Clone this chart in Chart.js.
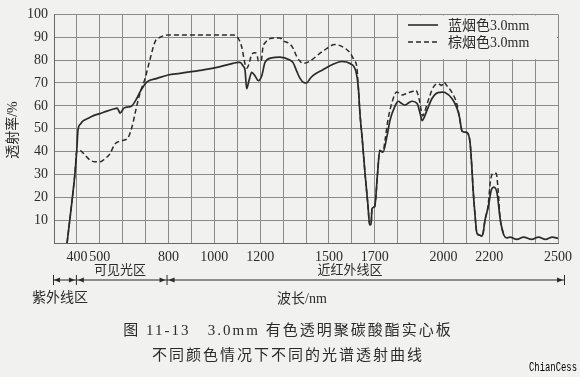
<!DOCTYPE html>
<html>
<head>
<meta charset="utf-8">
<script src="https://cdn.jsdelivr.net/npm/chart.js@4.4.1/dist/chart.umd.min.js"></script>
<style>
  html, body { margin: 0; padding: 0; background: #f1f1ef; }
  #wrap { width: 580px; height: 377px; }
</style>
</head>
<body>
<div id="wrap"><canvas id="spectrum" width="580" height="377"></canvas></div>
<script>
// wavelength (nm) / transmittance (%)
const blueWavelength = [357, 377, 392, 399, 405, 415, 427, 450, 470, 500, 531, 560, 575, 582, 588, 595, 605, 625, 640, 660, 675, 690, 706, 750, 798, 850, 937, 1000, 1081, 1103, 1112, 1125, 1134, 1141, 1151, 1163, 1177, 1192, 1207, 1221, 1250, 1286, 1330, 1343, 1359, 1374, 1390, 1403, 1417, 1430, 1474, 1518, 1556, 1592, 1618, 1628, 1636, 1645, 1658, 1670, 1678, 1684, 1688, 1700, 1712, 1722, 1730, 1736, 1754, 1767, 1788, 1802, 1818, 1832, 1850, 1863, 1885, 1898, 1907, 1916, 1928, 1950, 1976, 1995, 2007, 2037, 2059, 2070, 2081, 2092, 2103, 2116, 2124, 2129, 2138, 2146, 2159, 2167, 2173, 2181, 2195, 2210, 2220, 2234, 2247, 2254, 2264, 2277, 2290, 2320, 2350, 2385, 2415, 2445, 2475, 2500];
const blueTransmission = [0, 17, 31, 40, 49.6, 52, 53.4, 54.6, 55.6, 56.6, 57.7, 58.6, 59, 58, 56.8, 57.5, 59, 59.5, 60, 63, 66, 68.5, 70.5, 72, 73.5, 74.2, 75.5, 76.6, 78.6, 79, 79, 77.5, 75.5, 67.5, 71, 74.6, 73.2, 71, 73.2, 79, 81, 81.3, 80, 79, 75.3, 72, 70.2, 70, 71.8, 73.2, 75.8, 78.2, 79.4, 78.5, 75, 68.5, 56, 46, 30, 17, 8, 8, 15, 16, 30, 40.5, 40, 39.7, 47, 53.8, 59.8, 62, 61, 60.3, 61.5, 62, 61, 56.8, 53.5, 55, 58, 63.2, 65.8, 66, 65.8, 63.2, 59, 55, 49, 48.5, 48.3, 44, 33, 24, 12, 4.3, 3.4, 3, 4.3, 9.8, 15.5, 23.5, 24.4, 21.8, 11, 7, 3.4, 2.2, 2.6, 1.6, 2.6, 1.6, 2.6, 1.6, 2.6, 2];

const brownWavelength = [357, 377, 392, 398, 405, 413, 435, 457, 479, 501, 523, 544, 566, 595, 623, 635, 646, 654, 675, 697, 719, 741, 763, 798, 900, 1000, 1081, 1103, 1120, 1134, 1141, 1150, 1163, 1177, 1186, 1192, 1204, 1212, 1225, 1243, 1286, 1300, 1330, 1343, 1360, 1374, 1387, 1400, 1417, 1474, 1527, 1556, 1592, 1610, 1622, 1628, 1636, 1645, 1658, 1670, 1678, 1684, 1688, 1700, 1712, 1722, 1730, 1736, 1745, 1758, 1774, 1796, 1818, 1845, 1870, 1880, 1895, 1909, 1919, 1934, 1956, 1977, 1992, 2002, 2014, 2036, 2058, 2070, 2081, 2092, 2103, 2116, 2124, 2129, 2138, 2146, 2159, 2167, 2173, 2181, 2195, 2205, 2216, 2230, 2238, 2247, 2254, 2264];
const brownTransmission = [0, 17, 31, 39.5, 40.5, 40.5, 38.5, 36.3, 35.5, 35.5, 36.9, 39, 43.3, 44.7, 46, 49, 53, 56.8, 65.4, 71.8, 80.3, 88, 90, 91, 91, 91, 91, 89.7, 85.5, 78.2, 76.5, 78, 82.5, 83.2, 82.5, 79.6, 79.6, 85.5, 88, 89.4, 89.7, 88.5, 87, 85.3, 81.5, 79.5, 78.5, 78.8, 79.6, 83.9, 86.8, 86, 83.2, 80, 77, 68.5, 56, 46, 30, 17, 8, 8, 15, 16, 30, 40.5, 40, 40, 45, 54, 61, 66, 64.7, 65.7, 66.5, 66.8, 62.5, 55.6, 57.7, 62.5, 68.2, 69.7, 68.9, 70.4, 68.9, 66, 61, 55, 49, 48.5, 48.3, 44, 33, 24, 12, 4.3, 3.4, 3, 4.3, 9.8, 16.5, 27, 30.5, 30.5, 24, 11, 7, 3.4];

const xTickLabels = [400, 500, 800, 1000, 1200, 1500, 1700, 2000, 2200, 2500];
const yTickLabels = [10, 20, 30, 40, 50, 60, 70, 80, 90, 100];
const seriesNames = ['蓝烟色3.0mm', '棕烟色3.0mm'];

const BG = '#f1f1ef';
const INK = '#2b2b2b';
const GRID = '#8a8a8a';
const SERIF = "'Liberation Serif', 'Noto Sans CJK SC', serif";

function toPoints(xs, ys) {
    return xs.map((x, i) => ({ x: x, y: ys[i] }));
}

// legend sits on a blank patch of the grid (1800-2500 nm, 80-100 %)
const legendBox = {
    id: 'legendBox',
    beforeDatasetsDraw(chart) {
        const { ctx, scales: { x, y } } = chart;
        const x0 = x.getPixelForValue(1800), x1 = x.getPixelForValue(2500);
        const y0 = y.getPixelForValue(100), y1 = y.getPixelForValue(80);
        ctx.save();
        ctx.fillStyle = BG;
        ctx.fillRect(x0 + 1, y0 + 1, x1 - x0 - 2, y1 - y0 - 2);
        ctx.restore();
    },
    afterDatasetsDraw(chart) {
        const { ctx } = chart;
        ctx.save();
        ctx.strokeStyle = INK;
        ctx.fillStyle = INK;
        ctx.font = '14px ' + SERIF;
        ctx.textBaseline = 'middle';
        [25, 42].forEach((ly, i) => {
            ctx.lineWidth = i === 0 ? 1.6 : 1.4;
            ctx.setLineDash(i === 0 ? [] : [5, 3]);
            ctx.beginPath();
            ctx.moveTo(408, ly);
            ctx.lineTo(438, ly);
            ctx.stroke();
            ctx.setLineDash([]);
            ctx.fillText(seriesNames[i], 448, ly + 1);
        });
        ctx.restore();
    }
};

function arrowHead(ctx, x, y, dir) {
    ctx.beginPath();
    ctx.moveTo(x, y);
    ctx.lineTo(x - dir * 6, y - 2.5);
    ctx.lineTo(x - dir * 6, y + 2.5);
    ctx.closePath();
    ctx.fill();
}

// region arrows, axis title, caption
const annotations = {
    id: 'annotations',
    afterDraw(chart) {
        const { ctx, scales: { x } } = chart;
        const xa = x.getPixelForValue(300) - 1;
        const xb = x.getPixelForValue(400) - 1;
        const xc = x.getPixelForValue(800) - 2;
        const xd = 564;
        const ay = 280;
        ctx.save();
        ctx.strokeStyle = INK;
        ctx.fillStyle = INK;
        ctx.lineWidth = 1;
        ctx.beginPath();
        ctx.moveTo(xa, ay); ctx.lineTo(xd, ay);
        [xa, xb, xc, xd].forEach(px => { ctx.moveTo(px + 0.5, ay - 5); ctx.lineTo(px + 0.5, ay + 5); });
        ctx.stroke();
        arrowHead(ctx, xa + 1, ay, -1);
        arrowHead(ctx, xb - 1, ay, 1);
        arrowHead(ctx, xb + 2, ay, -1);
        arrowHead(ctx, xc - 1, ay, 1);
        arrowHead(ctx, xc + 2, ay, -1);
        arrowHead(ctx, xd - 1, ay, 1);

        ctx.textAlign = 'center';
        ctx.textBaseline = 'middle';
        ctx.font = '13px ' + SERIF;
        ctx.fillText('可见光区', 120, 271);
        ctx.fillText('近红外线区', 350, 271);
        ctx.font = '14px ' + SERIF;
        ctx.fillText('紫外线区', 60, 298);
        ctx.fillText('波长/nm', 302, 299);

        ctx.font = '15px ' + SERIF;
        ctx.letterSpacing = '2px';
        ctx.fillText('图 11-13   3.0mm 有色透明聚碳酸酯实心板', 288, 331);
        ctx.fillText('不同颜色情况下不同的光谱透射曲线', 288, 356);
        ctx.letterSpacing = '0px';

        ctx.save();
        ctx.translate(13, 130);
        ctx.rotate(-Math.PI / 2);
        ctx.font = '14px ' + SERIF;
        ctx.fillText('透射率/%', 0, 0);
        ctx.restore();

        ctx.fillStyle = '#000';
        ctx.textAlign = 'left';
        ctx.font = "12px 'Liberation Mono', monospace";
        ctx.fillText('ChianCess', 529, 368, 48);
        ctx.restore();
    }
};

const ctx = document.getElementById('spectrum').getContext('2d');
new Chart(ctx, {
    type: 'line',
    data: {
        datasets: [
            {
                label: seriesNames[0],
                data: toPoints(blueWavelength, blueTransmission),
                borderColor: INK,
                borderWidth: 1.7,
                pointRadius: 0,
                cubicInterpolationMode: 'monotone',
                fill: false
            },
            {
                label: seriesNames[1],
                data: toPoints(brownWavelength, brownTransmission),
                borderColor: INK,
                borderWidth: 1.5,
                borderDash: [5, 3],
                pointRadius: 0,
                cubicInterpolationMode: 'monotone',
                fill: false
            }
        ]
    },
    options: {
        responsive: false,
        animation: false,
        devicePixelRatio: 1,
        layout: { padding: { top: 9, right: 22, left: 0, bottom: 0 } },
        plugins: {
            legend: { display: false },
            tooltip: { enabled: false }
        },
        scales: {
            x: {
                type: 'linear',
                min: 300,
                max: 2500,
                afterFit: (scale) => { scale.height = 134; },
                grid: { color: GRID, lineWidth: 1, drawTicks: false },
                border: { color: '#666', width: 1 },
                ticks: {
                    stepSize: 100,
                    autoSkip: false,
                    maxRotation: 0,
                    padding: 6,
                    color: INK,
                    font: { family: SERIF, size: 14 },
                    callback: (v) => xTickLabels.includes(v) ? String(v) : ''
                }
            },
            y: {
                min: 0,
                max: 100,
                afterFit: (scale) => { scale.width = 54; },
                grid: { color: GRID, lineWidth: 1, drawTicks: false },
                border: { color: '#666', width: 1 },
                ticks: {
                    stepSize: 10,
                    padding: 6,
                    color: INK,
                    font: { family: SERIF, size: 14 },
                    callback: (v) => yTickLabels.includes(v) ? String(v) : ''
                }
            }
        }
    },
    plugins: [legendBox, annotations]
});
</script>
</body>
</html>
